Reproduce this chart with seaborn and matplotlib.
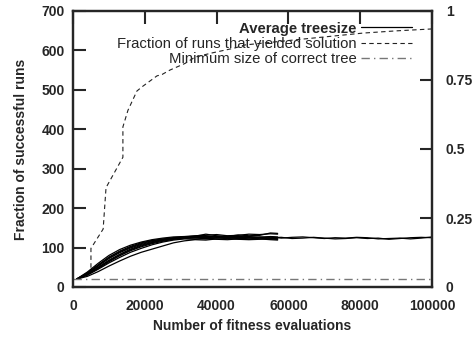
import numpy as np
import pandas as pd
import matplotlib
matplotlib.use('Agg')
import matplotlib.pyplot as plt
import seaborn as sns

# === Data ===
# short runs (stopped around 57000 evaluations)
evals_short = [1000, 4000, 7000, 10000, 13000, 16000, 19000, 22000, 25000, 28000,
               31000, 34000, 37000, 40000, 43000, 46000, 49000, 52000, 55000, 57000]
run1 = [20, 38, 60, 80, 95, 106, 114, 120, 124, 127, 128, 130, 131, 133, 130, 131, 134, 133, 135, 134]
run2 = [20, 36, 56, 76, 91, 103, 112, 118, 122, 125, 127, 129, 134, 130, 128, 132, 130, 131, 137, 136]
run3 = [20, 34, 53, 72, 87, 99, 108, 115, 120, 124, 126, 127, 128, 126, 129, 127, 128, 126, 128, 127]
run4 = [20, 33, 50, 68, 83, 96, 106, 113, 119, 122, 125, 124, 126, 128, 125, 124, 126, 125, 123, 124]
run5 = [20, 31, 47, 64, 79, 92, 102, 110, 116, 121, 123, 125, 122, 124, 126, 123, 121, 124, 122, 121]
run6 = [20, 30, 45, 61, 75, 88, 98, 107, 114, 119, 122, 121, 123, 121, 120, 122, 124, 122, 120, 119]
run7 = [20, 27, 39, 53, 66, 78, 88, 96, 104, 112, 117, 120, 119, 122, 123, 121, 120, 121, 123, 122]

# long runs (up to 100000 evaluations)
evals_long = [1000, 4000, 7000, 10000, 13000, 16000, 19000, 22000, 25000, 28000,
              31000, 34000, 37000, 40000, 43000, 46000, 49000, 52000, 55000, 58000,
              61000, 64000, 67000, 70000, 73000, 76000, 79000, 82000, 85000, 88000,
              91000, 94000, 97000, 100000]
long1 = [20, 35, 55, 74, 89, 101, 110, 117, 121, 124, 126, 127, 129, 127, 126, 128, 127, 125, 127, 124,
         126, 127, 125, 123, 125, 124, 126, 125, 122, 123, 124, 122, 124, 127]
long2 = [20, 32, 49, 66, 81, 94, 104, 112, 118, 122, 124, 126, 125, 127, 124, 126, 124, 127, 125, 126,
         123, 124, 126, 124, 122, 123, 125, 123, 124, 121, 123, 125, 126, 125]

# fraction of runs that yielded a solution (right axis)
frac_evals = [5000, 5000, 8400, 9200, 13900, 13900, 15300, 17800, 19200, 23400,
              24800, 27000, 31200, 34000, 38700, 45100, 47900, 60000, 70000, 80800, 90000, 100000]
frac_vals = [0.07, 0.14, 0.21, 0.36, 0.47, 0.58, 0.64, 0.71, 0.725, 0.765,
             0.77, 0.786, 0.81, 0.833, 0.848, 0.866, 0.877, 0.893, 0.906, 0.92, 0.928, 0.935]

min_size = 20

# === Build long table ===
rows = []
for i, r in enumerate([run1, run2, run3, run4, run5, run6, run7]):
    rows.append(pd.DataFrame({'evals': evals_short, 'size': r, 'run': i}))
for i, r in enumerate([long1, long2]):
    rows.append(pd.DataFrame({'evals': evals_long, 'size': r, 'run': 10 + i}))
df = pd.concat(rows, ignore_index=True)

frac_df = pd.DataFrame({'evals': frac_evals, 'frac': frac_vals})
min_df = pd.DataFrame({'evals': [0, 100000], 'size': [min_size, min_size]})

# === Style ===
sns.set_style('white')
plt.rcParams['font.family'] = ['Liberation Sans', 'DejaVu Sans']
plt.rcParams['axes.linewidth'] = 1.6

fig = plt.figure(figsize=(4.75, 3.37), dpi=100)
ax = fig.add_axes([73 / 475, 50 / 337, 359 / 475, 276 / 337])

sns.lineplot(data=df, x='evals', y='size', units='run', estimator=None,
             color='black', lw=0.9, ax=ax, legend=False)
sns.lineplot(data=min_df, x='evals', y='size', color='#777777', lw=1.0,
             linestyle=(0, (6, 3, 1, 3)), ax=ax, legend=False)

ax2 = ax.twinx()
sns.lineplot(data=frac_df, x='evals', y='frac', color='#222222', lw=0.8,
             linestyle=(0, (4, 3)), ax=ax2, legend=False, estimator=None, sort=False)

ax.set_xlim(0, 100000)
ax.set_ylim(0, 700)
ax2.set_ylim(0, 1)
ax.set_xticks([0, 20000, 40000, 60000, 80000, 100000])
ax.set_yticks([0, 100, 200, 300, 400, 500, 600, 700])
ax2.set_yticks([0, 0.25, 0.5, 0.75, 1])
ax2.set_yticklabels(['0', '0.25', '0.5', '0.75', '1'])

ax.tick_params(axis='x', direction='in', length=9, width=1.5, top=True, labelsize=10, pad=9)
ax.tick_params(axis='y', direction='in', length=9, width=1.5, right=False, labelsize=10, pad=6)
ax2.tick_params(axis='y', direction='in', length=9, width=1.5, labelsize=10, pad=10)
for lab in ax.get_xticklabels() + ax.get_yticklabels() + ax2.get_yticklabels():
    lab.set_fontweight('bold')

ax.set_xlabel('Number of fitness evaluations', fontsize=10, fontweight='bold', labelpad=4)
ax.set_ylabel('Fraction of successful runs', fontsize=10, fontweight='bold', labelpad=10)
ax2.set_ylabel('')

# legend (markerfirst=False right-aligns the rows)
h1 = ax.get_lines()[0]
h_min = ax.get_lines()[-1]
h_frac = ax2.get_lines()[0]
leg = ax2.legend([h1, h_frac, h_min],
                 ['Average treesize', 'Fraction of runs that yielded solution',
                  'Minimum size of correct tree'],
                 loc='upper right', bbox_to_anchor=(0.96, 0.983), frameon=False,
                 markerfirst=False, fontsize=10.7, handlelength=3.4,
                 handletextpad=0.3, labelspacing=0.08, borderaxespad=0)
leg.get_texts()[0].set_fontweight('bold')

fig.savefig('out.png', dpi=100)
